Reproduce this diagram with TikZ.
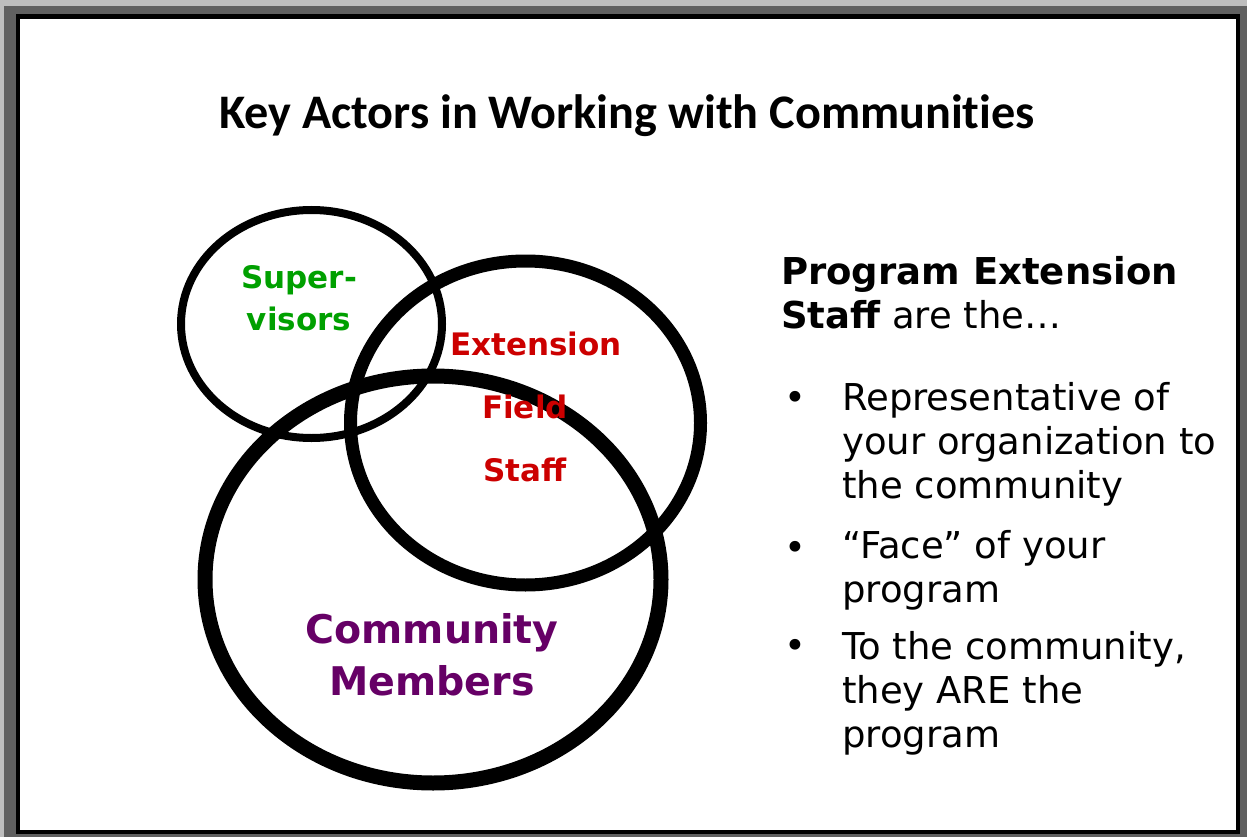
\documentclass[tikz,border=0pt]{standalone}
\usepackage{fontspec}
\setmainfont{DejaVu Sans}
\newfontfamily\titlefont[Ligatures=NoCommon]{Carlito}
\usetikzlibrary{positioning}
\definecolor{supgreen}{RGB}{0,160,0}
\definecolor{extred}{RGB}{204,0,0}
\definecolor{compurple}{RGB}{102,0,102}
\definecolor{framelight}{RGB}{190,190,190}
\definecolor{framedark}{RGB}{96,96,96}
\begin{document}
\begin{tikzpicture}[x=1pt,y=-1pt,
  circlabel/.style={font=\bfseries\fontsize{31}{63}\selectfont,align=center,inner sep=0pt,anchor=base},
  bodytext/.style={font=\fontsize{37}{44}\selectfont,align=left,inner sep=0pt,anchor=base west},
  bulletdot/.style={font=\fontsize{37}{44}\selectfont,inner sep=0pt,anchor=base}]
% frame
\fill[framelight] (0,0) rectangle (1247,837);
\fill[framedark] (4,6) rectangle (1247,837);
\fill[black] (16,14) rectangle (1240,834);
\fill[white] (20,19) rectangle (1236,830);
\node[font=\titlefont\bfseries\fontsize{48.2}{52}\selectfont,anchor=base,inner sep=0pt] (title) at (627,129) {Key Actors in Working with Communities};
% the three rings
\draw[line width=8] (311.5,324) ellipse [x radius=130.5, y radius=114];
\draw[line width=13] (525.5,423) ellipse [x radius=175, y radius=162];
\draw[line width=15] (433,579.5) ellipse [x radius=228, y radius=203.5];
% labels (base = last line)
\node[circlabel,text=supgreen,font=\bfseries\fontsize{31}{42}\selectfont] (sup) at (299,330) {Super-\\visors};
\node[circlabel,text=extred] (ext) at (536,355) {Extension};
\node[circlabel,text=extred] (field) at (525,481) {Field\\Staff};
\node[circlabel,text=compurple,font=\bfseries\fontsize{39.5}{52}\selectfont] (comm) at (432,695) {Community\\Members};
% right side text
\node[bodytext] (head) at (781,328) {{\bfseries Program Extension}\\{\bfseries Staff} are the…};
\node[bodytext] (item1) at (842,498) {Representative of\\your organization to\\the community};
\node[bodytext] (item2) at (842,602) {“Face” of your\\program};
\node[bodytext] (item3) at (842,747) {To the community,\\they ARE the\\program};
\foreach \y/\n in {410/1,560/2,658/3}
  \node[bulletdot] (dot\n) at (795,\y) {•};
\end{tikzpicture}
\end{document}
